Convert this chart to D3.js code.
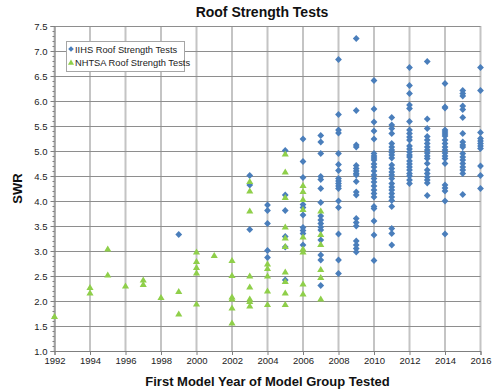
<!DOCTYPE html>
<html>
<head>
<meta charset="utf-8">
<script src="https://cdn.jsdelivr.net/npm/d3@7"></script>
<style>
  html, body { margin:0; padding:0; background:#fff; }
  svg { display:block; font-family: "Liberation Sans", Arial, sans-serif; }
</style>
</head>
<body>
<svg id="chart" width="500" height="389"></svg>
<script>
// values, per model year
const iihs = [
  {year:1999, swr:[3.33]},
  {year:2003, swr:[4.51,4.32,3.43]},
  {year:2004, swr:[3.92,3.81,3.55,3.01,2.87]},
  {year:2005, swr:[5.01,4.12,3.81,3.29,3.08,2.42]},
  {year:2006, swr:[5.24,4.79,4.47,3.93,3.87,3.72,3.47,3.41,3.35,3.12]},
  {year:2007, swr:[5.31,5.18,4.95,4.49,4.43,4.25,3.97,3.70,3.62,3.55,3.48,3.42,3.22,2.92,2.82,2.31]},
  {year:2008, swr:[6.83,5.73,5.42,5.36,4.95,4.73,4.61,4.45,4.40,4.35,4.30,4.25,4.00,3.87,3.34,2.82,2.55]},
  {year:2009, swr:[7.25,5.81,5.12,5.08,4.71,4.65,4.60,4.55,4.52,4.39,4.18,4.12,3.65,3.57,3.50,3.20,3.12,3.05,2.98]},
  {year:2010, swr:[6.41,5.84,5.58,5.40,5.24,4.95,4.90,4.86,4.82,4.74,4.68,4.60,4.52,4.45,4.38,4.30,4.22,4.15,4.08,3.89,3.85,3.60,3.32,2.81]},
  {year:2011, swr:[5.67,5.52,5.45,5.35,5.15,5.08,5.02,4.97,4.92,4.86,4.72,4.65,4.58,4.52,4.45,4.35,4.28,4.22,4.15,4.08,4.01,3.89,3.45,3.35,3.12]},
  {year:2012, swr:[6.67,6.31,6.15,5.92,5.85,5.59,5.42,5.35,5.28,5.22,5.10,5.04,4.98,4.92,4.88,4.80,4.74,4.68,4.62,4.55,4.50,4.42,4.35]},
  {year:2013, swr:[6.79,5.64,5.45,5.29,5.22,5.15,5.08,5.02,4.96,4.90,4.85,4.75,4.62,4.55,4.48,4.42,4.36,4.11]},
  {year:2014, swr:[6.35,5.88,5.86,5.42,5.38,5.34,5.30,5.22,5.15,5.08,5.02,4.96,4.90,4.85,4.75,4.32,4.26,4.20,4.00,3.34]},
  {year:2015, swr:[6.21,6.15,6.10,5.90,5.83,5.67,5.35,5.18,5.12,5.08,4.95,4.88,4.82,4.75,4.68,4.62,4.55,4.13]},
  {year:2016, swr:[6.67,6.21,5.37,5.25,5.20,5.15,5.10,5.05,4.70,4.51,4.25]}
];

const nhtsa = [
  {year:1992, swr:[1.68]},
  {year:1994, swr:[2.26,2.15]},
  {year:1995, swr:[3.03,2.51]},
  {year:1996, swr:[2.29]},
  {year:1997, swr:[2.41,2.32]},
  {year:1998, swr:[2.06]},
  {year:1999, swr:[2.18,1.73]},
  {year:2000, swr:[2.97,2.78,2.66,2.55,1.93]},
  {year:2001, swr:[2.90]},
  {year:2002, swr:[2.80,2.50,2.07,2.03,1.85,1.55]},
  {year:2003, swr:[4.38,4.19,3.79,2.49,2.27,2.03,1.98,1.89]},
  {year:2004, swr:[2.73,2.64,2.49,2.19,1.92]},
  {year:2005, swr:[4.93,4.57,4.06,3.47,3.25,3.08,2.57,2.38,2.15,1.92]},
  {year:2006, swr:[4.30,4.18,4.02,3.82,3.27,3.03,2.97,2.33,2.13]},
  {year:2007, swr:[3.79,3.32,3.12,2.62,2.46,2.03]}
];

const xTicks = [1992,1994,1996,1998,2000,2002,2004,2006,2008,2010,2012,2014,2016];
const yTicks = [1.0,1.5,2.0,2.5,3.0,3.5,4.0,4.5,5.0,5.5,6.0,6.5,7.0,7.5];
const yMinor = d3.range(10, 76).map(v=>v/10);

const blue = "#4a7ebb", green = "#8fcf4a";

const svg = d3.select("#chart");
const x = d3.scaleLinear().domain([1992,2016]).range([54.5,480.5]);
const y = d3.scaleLinear().domain([1,7.5]).range([351,26]);

// gridlines
svg.append("g").selectAll("line").data(xTicks).enter().append("line")
  .attr("x1", d=>x(d)).attr("x2", d=>x(d))
  .attr("y1", y(7.5)).attr("y2", y(1))
  .attr("stroke", "#c4c4c4").attr("stroke-width", 2);
svg.append("g").selectAll("line").data(yTicks).enter().append("line")
  .attr("x1", x(1992)).attr("x2", x(2016))
  .attr("y1", d=>Math.round(y(d))+0.5).attr("y2", d=>Math.round(y(d))+0.5)
  .attr("stroke", "#8e8e8e").attr("stroke-width", 1);

// axes
const yAxis = svg.append("g").attr("transform", `translate(${x(1992)},0)`)
  .call(d3.axisLeft(y).tickValues(yTicks).tickFormat(d3.format(".1f")).tickSize(4).tickPadding(3));
svg.append("g").attr("transform", `translate(${x(1992)},0)`)
  .call(d3.axisLeft(y).tickValues(yMinor).tickFormat("").tickSize(2))
  .select(".domain").remove();
const xAxis = svg.append("g").attr("transform", `translate(0,${y(1)})`)
  .call(d3.axisBottom(x).tickValues(xTicks).tickFormat(d3.format("d")).tickSize(4).tickPadding(2));
svg.selectAll(".domain").attr("stroke", "#7f7f7f");
svg.selectAll(".tick line").attr("stroke", "#7f7f7f");
svg.selectAll(".tick text").attr("font-size", 9.5).attr("fill", "#222")
  .attr("font-family", '"Liberation Sans", Arial, sans-serif');

// markers
function diamond(cx, cy, r){
  return `M${cx},${cy-r}L${cx+r},${cy}L${cx},${cy+r}L${cx-r},${cy}Z`;
}
const tri = d3.symbol(d3.symbolTriangle, 22);

const nPts = nhtsa.flatMap(g=>g.swr.map(v=>({year:g.year, v})));
const iPts = iihs.flatMap(g=>g.swr.map(v=>({year:g.year, v})));

svg.append("g").selectAll("path").data(iPts).enter().append("path")
  .attr("d", d=>diamond(x(d.year), y(d.v), 3.4))
  .attr("fill", blue);
svg.append("g").selectAll("path").data(nPts).enter().append("path")
  .attr("d", tri)
  .attr("transform", d=>`translate(${x(d.year)},${y(d.v)})`)
  .attr("fill", green);

// legend
const lg = svg.append("g");
lg.append("rect").attr("x", 66.5).attr("y", 41.5).attr("width", 118).attr("height", 30)
  .attr("fill", "#fff").attr("stroke", "#a6a6a6");
lg.append("path").attr("d", diamond(71, 49, 2.8)).attr("fill", blue);
lg.append("path").attr("d", d3.symbol(d3.symbolTriangle, 16)()).attr("transform", "translate(71,63)").attr("fill", green);
lg.append("text").attr("x", 75).attr("y", 52.5).attr("font-size", 9.3).attr("fill", "#222").text("IIHS Roof Strength Tests");
lg.append("text").attr("x", 75).attr("y", 66).attr("font-size", 9.3).attr("fill", "#222").text("NHTSA Roof Strength Tests");

// titles
svg.append("text").attr("x", 262).attr("y", 17).attr("text-anchor", "middle")
  .attr("font-size", 14).attr("font-weight", "bold").attr("fill", "#111").text("Roof Strength Tests");
svg.append("text").attr("transform", `translate(22,${y(4.25)}) rotate(-90)`)
  .attr("text-anchor", "middle").attr("font-size", 13).attr("font-weight", "bold").attr("fill", "#111").text("SWR");
svg.append("text").attr("x", 267.5).attr("y", 386).attr("text-anchor", "middle")
  .attr("font-size", 13).attr("font-weight", "bold").attr("fill", "#111").text("First Model Year of Model Group Tested");
</script>
</body>
</html>
